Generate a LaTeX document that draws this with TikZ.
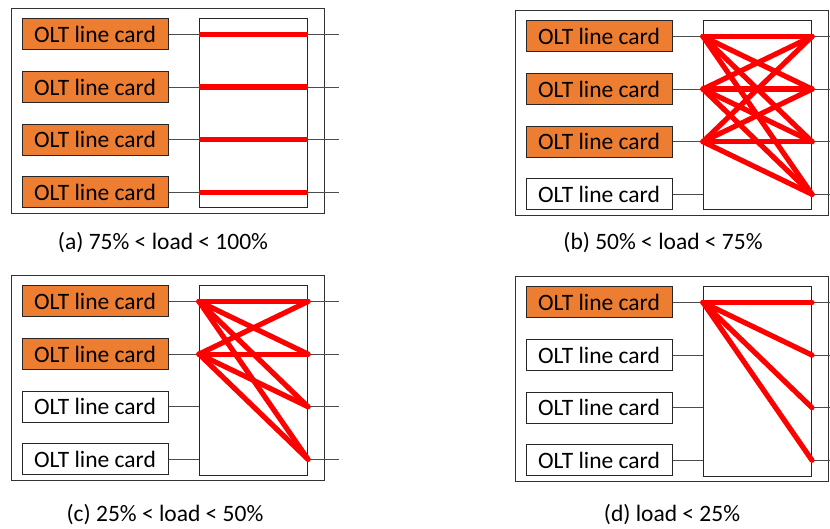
\documentclass[tikz,border=0pt]{standalone}
\usepackage{fontspec}
\setmainfont{Carlito}
\definecolor{cardorange}{HTML}{ED7D31}
\definecolor{linkred}{HTML}{FF0000}
\begin{document}
\begin{tikzpicture}[x=1pt,y=-1pt,
  outerbox/.style={draw=black!80,line width=1.3pt},
  card/.style={draw=black!85,line width=1pt,minimum width=146pt,minimum height=31pt,inner sep=0pt,font=\fontsize{23.5}{26}\selectfont},
  oncard/.style={card,fill=cardorange},
  offcard/.style={card,fill=white},
  switchbox/.style={draw=black!85,line width=1pt,fill=white,inner sep=0pt,minimum width=108pt,minimum height=189pt},
  wire/.style={draw=black!70,line width=0.9pt},
  link/.style={draw=linkred,line width=5.2pt,line cap=round},
  caption/.style={font=\fontsize{23.5}{27}\selectfont}]
\useasboundingbox (0,0) rectangle (830,529);
% panel name / origin x / origin y / active cards / caption / caption x / caption y
\foreach \p/\ox/\oy/\act/\cap/\cx/\cy in {
  a/11/8/4/{(a) 75\% < load < 100\%}/163/243,
  b/515/10/3/{(b) 50\% < load < 75\%}/663/243,
  c/11/275/2/{(c) 25\% < load < 50\%}/165/515,
  d/515/276/1/{(d) load < 25\%}/672/515}{
  \node[outerbox,minimum width=313pt,minimum height=205pt,inner sep=0pt,anchor=north west] (\p-frame) at (\ox,\oy) {};
  \node[switchbox,anchor=north west] (\p-sw) at (\ox+188,\oy+10.5) {};
  \node[caption] (\p-cap) at (\cx,\cy) {\cap};
  \foreach \k in {1,...,4}{
    \pgfmathsetmacro\yy{\oy+26.5+52.6*(\k-1)}
    \ifnum\k>\act
      \node[offcard] (\p-card\k) at (\ox+84,\yy) {OLT line card};
    \else
      \node[oncard] (\p-card\k) at (\ox+84,\yy) {OLT line card};
    \fi
    \coordinate (\p-in\k) at (\p-sw.west |- \p-card\k);
    \coordinate (\p-out\k) at (\p-sw.east |- \p-card\k);
    \coordinate (\p-end\k) at (\ox+328,\yy);
    \draw[wire] (\p-card\k.east) -- (\p-in\k);
    \draw[wire] (\p-out\k) -- (\p-end\k);
  }
}
% red links
\foreach \k in {1,...,4}{ \draw[link,line cap=butt] (a-in\k) -- (a-out\k); }
\foreach \i in {1,2,3}{ \foreach \j in {1,...,4}{ \draw[link] (b-in\i) -- (b-out\j); } }
\foreach \i in {1,2}{ \foreach \j in {1,...,4}{ \draw[link] (c-in\i) -- (c-out\j); } }
\foreach \j in {1,...,4}{ \draw[link] (d-in1) -- (d-out\j); }
\end{tikzpicture}
\end{document}
